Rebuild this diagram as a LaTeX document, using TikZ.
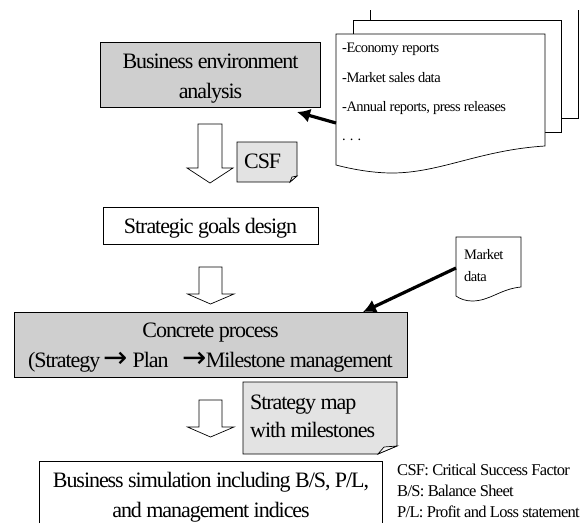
\documentclass[tikz,border=0pt]{standalone}
\usepackage{fontspec}
\setmainfont{Liberation Serif}
\newfontfamily\arrowfont{DejaVu Sans}
\newcommand{\bigtxt}{\fontsize{22}{30}\selectfont\addfontfeature{LetterSpace=-4.8}}
\newcommand{\smalltxt}{\fontsize{14.5}{22}\selectfont\addfontfeature{LetterSpace=-3.6}}
\newcommand{\legtxt}{\fontsize{16.5}{21}\selectfont\addfontfeature{LetterSpace=-4.4}}
\newcommand{\rarrow}{{\arrowfont\fontsize{29}{30}\selectfont →}}
\usetikzlibrary{arrows.meta}
\tikzset{
  linework/.style={draw=black,line width=0.7pt},
  procbox/.style={linework,rectangle,inner sep=0pt},
  grayproc/.style={procbox,fill=boxgray},
  whiteproc/.style={procbox,fill=white},
  boxtxt/.style={inner sep=0pt,anchor=base,align=center,font=\bigtxt},
  notefill/.style={linework,fill=notegray},
  doc/.style={linework,fill=white},
  blockarrow/.style={linework,fill=white},
  thickarrow/.style={draw=black,line width=3.2pt,-{Latex[length=13pt,width=14pt]}},
  plaintxt/.style={inner sep=0pt,anchor=base west,align=left},
}
\definecolor{boxgray}{HTML}{CFCFCF}
\definecolor{notegray}{HTML}{E3E3E3}
\begin{document}
\begin{tikzpicture}[x=1pt,y=-1pt]
\useasboundingbox (0,0) rectangle (586,523);
\fill[white] (0,0) rectangle (586,523);
% stacked documents
\draw[doc] (370,10) -- (370,20) (578,10) -- (578,118) -- (561,118);
\draw[doc] (353,34) -- (353,20) -- (561,20) -- (561,132) -- (545,132);
\draw[doc] (336,34) -- (545,34) -- (545,146) .. controls (480,150) and (440,173) .. (392,173) .. controls (375,173) and (355,170) .. (336,165) -- cycle;
\coordinate (docleft) at (336,123);
\node[plaintxt,font=\smalltxt] (d1) at (342,52.7) {-Economy reports};
\node[plaintxt,font=\smalltxt] (d2) at (342,82) {-Market sales data};
\node[plaintxt,font=\smalltxt] (d3) at (342,111) {-Annual reports, press releases};
\node[plaintxt,font=\smalltxt] (d4) at (342,140) {. . .};
% process boxes
\node[grayproc,minimum width=220.5pt,minimum height=65.5pt] (env) at (210.5,75) {};
\node[boxtxt] (envtxt) at (210.5,98) {Business environment\\analysis};
\node[whiteproc,minimum width=215pt,minimum height=37pt] (goals) at (210.5,225.5) {};
\node[boxtxt] (goalstxt) at (210.5,233) {Strategic goals design};
\node[grayproc,minimum width=392.5pt,minimum height=65pt] (proc) at (210.7,344.5) {};
\node[boxtxt] (proctxt) at (210.5,367) {Concrete process\\(Strategy\hspace{3.5pt}\rarrow\hspace{4.5pt}Plan\hspace{14pt}\rarrow\hspace{-1pt}Milestone management};
% open-bottomed simulation box
\draw[linework] (39.5,523) -- (39.5,461) -- (382.5,461) -- (382.5,523);
\node[boxtxt] (sim) at (211,517) {Business simulation including B/S, P/L,\\and management indices};
% block arrows
\draw[blockarrow] (198,124) -- (222,124) -- (222,168) -- (233,168) -- (210,183) -- (187,168) -- (198,168) -- cycle;
\draw[blockarrow] (199,267) -- (222,267) -- (222,294) -- (234,294) -- (210.5,304) -- (187.5,294) -- (199,294) -- cycle;
\draw[blockarrow] (199,400) -- (222,400) -- (222,427) -- (234,427) -- (210.5,437) -- (187.5,427) -- (199,427) -- cycle;
% notes
\draw[notefill] (237,142) -- (297,142) -- (297,176) -- (290,182) -- (237,182) -- cycle;
\draw[linework,fill=white!70!notegray] (290,182) -- (292,177) -- (297,176) -- cycle;
\node[plaintxt,font=\bigtxt] (csf) at (244,168) {CSF};
\draw[notefill] (243,382) -- (397,382) -- (397,446) -- (378,454) -- (243,454) -- cycle;
\draw[linework,fill=white!70!notegray] (378,454) -- (384,447) -- (397,446) -- cycle;
\node[plaintxt,font=\bigtxt] (st1) at (250,409) {Strategy map};
\node[plaintxt,font=\bigtxt] (st2) at (250,437) {with milestones};
% market data document
\draw[doc] (456,237) -- (521,237) -- (521,287) .. controls (500,289) and (490,301) .. (472,301) .. controls (466,301) and (460,299) .. (456,296) -- cycle;
\coordinate (mktleft) at (456,268);
\node[plaintxt,font=\smalltxt] (m1) at (464,259) {Market};
\node[plaintxt,font=\smalltxt] (m2) at (464,281) {data};
% thick connectors
\coordinate (envtip) at (297,112);
\coordinate (proctip) at (363,312);
\draw[thickarrow] (docleft) -- (envtip);
\draw[thickarrow] (mktleft) -- (proctip);
% legend
\node[plaintxt,font=\legtxt] (l1) at (397,475) {CSF: Critical Success Factor};
\node[plaintxt,font=\legtxt] (l2) at (397,496) {B/S: Balance Sheet};
\node[plaintxt,font=\legtxt] (l3) at (397,517) {P/L: Profit and Loss statement};
\end{tikzpicture}
\end{document}
